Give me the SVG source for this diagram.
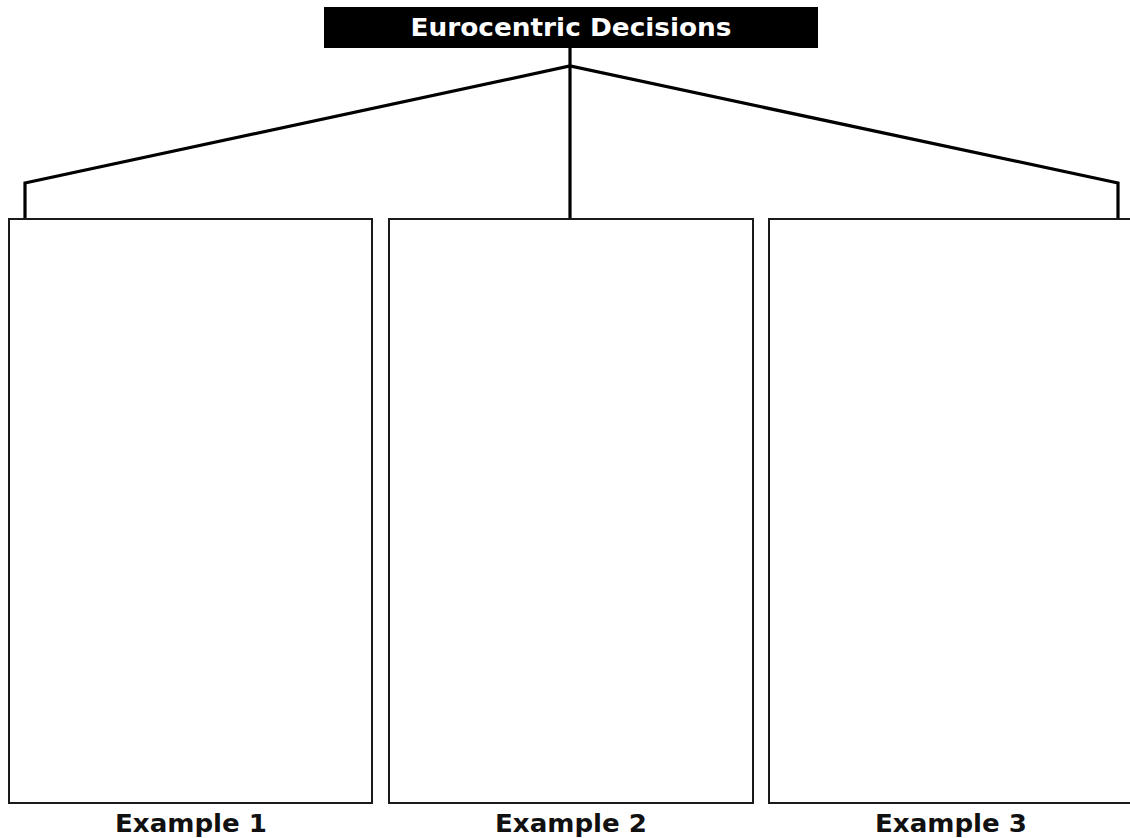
<svg xmlns="http://www.w3.org/2000/svg" width="1130" height="838" viewBox="0 0 1130 838">
<style>
.box{fill:#fff;stroke:#1a1a1a;stroke-width:2}
.conn{fill:none;stroke:#000;stroke-width:3.2;stroke-linejoin:miter}
.lbl{font-family:"DejaVu Sans",Verdana,sans-serif;font-weight:bold;font-size:25px;text-anchor:middle;fill:#111}
</style>
<rect width="1130" height="838" fill="#fff"/>
<g id="connectors">
<polyline class="conn" points="25,219 25,183 570,66 1118,183 1118,219"/>
<line class="conn" x1="570" y1="47" x2="570" y2="219"/>
</g>
<g id="title">
<rect x="324" y="7" width="494" height="41" fill="#000"/>
<text x="571" y="36" class="lbl" style="fill:#fff" textLength="321" lengthAdjust="spacingAndGlyphs">Eurocentric Decisions</text>
</g>
<g id="example1">
<rect class="box" x="9" y="219" width="363" height="584"/>
<text x="191" y="832" class="lbl" textLength="152" lengthAdjust="spacingAndGlyphs">Example 1</text>
</g>
<g id="example2">
<rect class="box" x="389" y="219" width="364" height="584"/>
<text x="571" y="832" class="lbl" textLength="152" lengthAdjust="spacingAndGlyphs">Example 2</text>
</g>
<g id="example3">
<rect class="box" x="769" y="219" width="370" height="584"/>
<text x="951" y="832" class="lbl" textLength="152" lengthAdjust="spacingAndGlyphs">Example 3</text>
</g>
</svg>
